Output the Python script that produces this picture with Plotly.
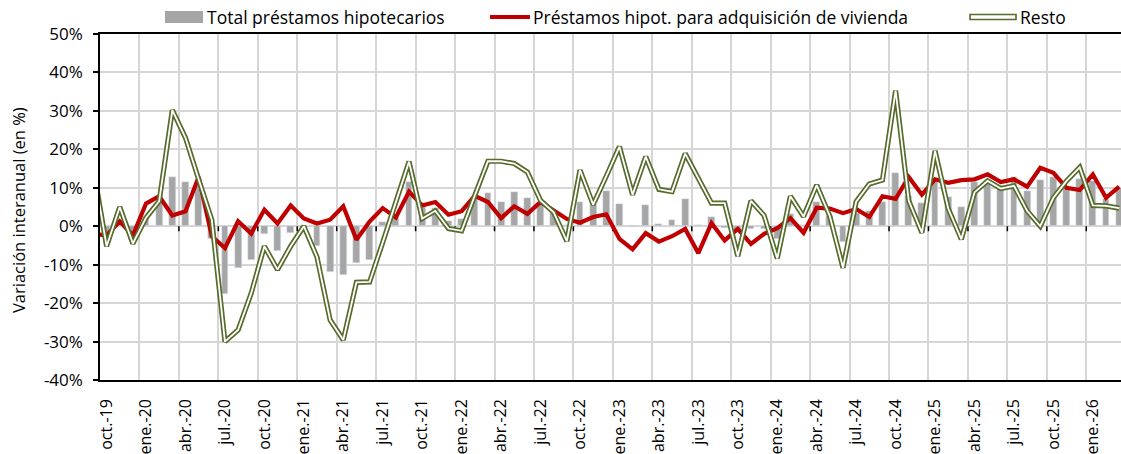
import plotly.graph_objects as go

# Monthly data, sep.19 (clipped at the left edge) to mar.26
total = [3.0,
    -2.5, 1.0, -3.5, 2.5, 6.0, 12.7, 11.4, 10.5, -3.4, -17.5, -10.9, -8.8,
    -2.0, -6.5, -1.7, -0.5, -5.2, -11.9, -12.6, -9.6, -8.8, 1.0, 2.6, 11.4,
    5.0, 4.8, 1.3, 1.8, 7.5, 8.7, 6.4, 8.8, 7.4, 5.8, 3.8, 0.3,
    6.4, 5.4, 9.2, 5.8, -0.2, 5.5, 0.7, 1.6, 7.2, 0.3, 2.4, -0.5,
    -1.2, -0.8, -0.7, -3.4, 3.1, 0.3, 6.2, 2.6, -4.0, 3.4, 4.0, 6.2,
    13.8, 7.8, 6.0, 11.8, 7.7, 5.0, 11.5, 12.0, 10.5, 12.7, 9.2, 12.0,
    12.7, 10.0, 12.3, 11.8, 7.0, 10.0]

vivienda = [-2.0,
    -2.4, 1.3, -2.4, 5.9, 7.8, 2.8, 3.9, 12.8, -2.6, -5.7, 1.3, -1.9,
    4.3, 0.7, 5.4, 2.0, 0.7, 1.7, 5.2, -3.5, 1.2, 4.7, 2.3, 9.0,
    5.4, 6.3, 3.0, 3.9, 7.9, 6.3, 2.1, 5.2, 3.2, 6.3, 4.2, 1.9,
    0.9, 2.4, 3.1, -3.3, -6.0, -1.8, -4.0, -2.6, -0.7, -7.0, 0.8, -3.7,
    -0.7, -4.6, -2.0, -0.5, 2.1, -1.7, 4.8, 4.6, 3.4, 4.5, 2.4, 7.8,
    7.1, 12.8, 8.2, 12.2, 11.3, 12.0, 12.2, 13.5, 11.5, 12.2, 10.3, 15.2,
    13.9, 10.0, 9.4, 13.5, 7.4, 10.3]

resto = [15.0,
    -5.2, 5.0, -4.5, 2.2, 6.5, 30.2, 23.0, 12.2, 1.7, -30.0, -27.0, -17.4,
    -5.2, -11.3, -5.2, 0.0, -8.0, -24.4, -29.6, -14.6, -14.5, -4.2, 6.3, 16.8,
    2.0, 4.0, -0.6, -1.2, 8.0, 16.9, 16.9, 16.3, 14.1, 6.7, 3.6, -3.9,
    14.6, 5.6, 13.0, 20.7, 8.2, 18.1, 9.6, 9.0, 18.9, 12.4, 6.0, 6.0,
    -7.8, 6.6, 2.8, -8.4, 7.8, 2.5, 10.7, 2.6, -10.8, 6.4, 11.0, 12.0,
    35.3, 6.6, -1.7, 19.6, 4.6, -3.4, 8.8, 11.8, 9.8, 10.5, 4.0, 0.0,
    7.4, 11.8, 15.3, 5.4, 5.3, 4.7]

tick_labels = ["oct.-19", "ene.-20", "abr.-20", "jul.-20", "oct.-20", "ene.-21",
               "abr.-21", "jul.-21", "oct.-21", "ene.-22", "abr.-22", "jul.-22",
               "oct.-22", "ene.-23", "abr.-23", "jul.-23", "oct.-23", "ene.-24",
               "abr.-24", "jul.-24", "oct.-24", "ene.-25", "abr.-25", "jul.-25",
               "oct.-25", "ene.-26"]

y_ticks = [-40, -30, -20, -10, 0, 10, 20, 30, 40, 50]
y_ticktext = ["-40%", "-30%", "-20%", "-10%", "0%", "10%", "20%", "30%", "40%", "50%"]

series_names = ["Total préstamos hipotecarios",
                "Préstamos hipot. para adquisición de vivienda",
                "Resto"]

x = list(range(-1, len(total) - 1))
tick_pos = [3 * k for k in range(len(tick_labels))]

FONT = "Open Sans"
GRAY = "#a6a6a6"
RED = "#c00000"
OLIVE = "#566b2c"

fig = go.Figure()
fig.add_trace(go.Bar(x=x, y=total, marker_color=GRAY, width=0.52,
                     name=series_names[0], showlegend=False))
fig.add_trace(go.Scatter(x=x, y=vivienda, mode="lines",
                         line=dict(color=RED, width=4.2),
                         name=series_names[1], showlegend=False))
fig.add_trace(go.Scatter(x=x, y=resto, mode="lines",
                         line=dict(color=OLIVE, width=5.2),
                         name=series_names[2], showlegend=False))
fig.add_trace(go.Scatter(x=x, y=resto, mode="lines",
                         line=dict(color="white", width=1.8),
                         showlegend=False, hoverinfo="skip"))

shapes = []
# horizontal axis line at zero (above the bars, below the lines)
shapes.append(dict(type="line", xref="paper", yref="y", x0=0, x1=1, y0=0, y1=0,
                   layer="between", line=dict(color="black", width=1.5)))
# tick marks on the zero line at category boundaries
for b in range(len(tick_labels)):
    bx = 2.5 + 3 * b
    if bx < 77:
        shapes.append(dict(type="line", xref="x", yref="y", x0=bx, x1=bx,
                           y0=0, y1=-1.3, layer="between",
                           line=dict(color="black", width=1.5)))

# manual legend (paper coords relative to plot area 100..1121 x, 34..380 y)
W, H, L, T = 1021.0, 346.0, 100.0, 34.0
def px(v):
    return (v - L) / W
def py(v):
    return (T + H - v) / H

ly = 17
LEG_SIZE = 17.5
shapes.append(dict(type="rect", xref="paper", yref="paper",
                   x0=px(165), x1=px(203), y0=py(ly + 6), y1=py(ly - 6),
                   fillcolor=GRAY, line=dict(width=0)))
shapes.append(dict(type="line", xref="paper", yref="paper",
                   x0=px(490), x1=px(530), y0=py(ly), y1=py(ly),
                   line=dict(color=RED, width=4.2)))
shapes.append(dict(type="rect", xref="paper", yref="paper",
                   x0=px(970), x1=px(1016), y0=py(ly + 2.5), y1=py(ly - 2.5),
                   fillcolor="white", line=dict(color=OLIVE, width=1.6)))

annotations = [
    dict(text=series_names[0], xref="paper", yref="paper", x=px(205), y=py(ly),
         xanchor="left", yanchor="middle", showarrow=False,
         font=dict(family=FONT, size=LEG_SIZE, color="black")),
    dict(text=series_names[1], xref="paper", yref="paper", x=px(531), y=py(ly),
         xanchor="left", yanchor="middle", showarrow=False,
         font=dict(family=FONT, size=LEG_SIZE, color="black")),
    dict(text=series_names[2], xref="paper", yref="paper", x=px(1018), y=py(ly),
         xanchor="left", yanchor="middle", showarrow=False,
         font=dict(family=FONT, size=LEG_SIZE, color="black")),
    dict(text="Variación interanual (en %)", xref="paper", yref="paper",
         x=px(18), y=py(210), xanchor="center", yanchor="middle",
         textangle=-90, showarrow=False,
         font=dict(family=FONT, size=16.5, color="black")),
]

fig.update_layout(
    width=1121, height=454,
    margin=dict(l=100, r=0, t=34, b=74, autoexpand=False),
    plot_bgcolor="white", paper_bgcolor="white",
    font=dict(family=FONT, color="black"),
    bargap=0,
    shapes=shapes,
    annotations=annotations,
    xaxis=dict(range=[-0.5, 77.14], tickmode="array", tickvals=tick_pos,
               ticktext=tick_labels, tickangle=-90, automargin=False,
               ticks="outside", ticklen=11, tickcolor="rgba(0,0,0,0)",
               tickfont=dict(family=FONT, size=16, color="black"),
               showgrid=False, zeroline=False,
               showline=True, linecolor="black", linewidth=1.5, mirror=True,
               minor=dict(tick0=-0.5, dtick=3, showgrid=True,
                          gridcolor="#d6d6d6", gridwidth=1.5, ticks="")),
    yaxis=dict(range=[-40, 50], tickmode="array", tickvals=y_ticks,
               ticktext=y_ticktext, ticks="outside", ticklen=5,
               tickcolor="black", tickwidth=1.5, automargin=False,
               ticklabelstandoff=7,
               tickfont=dict(family=FONT, size=17, color="black"),
               showgrid=True, gridcolor="#d6d6d6", gridwidth=1.5,
               zeroline=False,
               showline=True, linecolor="black", linewidth=1.5),
)

fig.write_html(
    "out.html",
    config={"displayModeBar": False},
    post_script="document.body.style.margin='0';"
                "document.body.style.overflow='hidden';",
)
